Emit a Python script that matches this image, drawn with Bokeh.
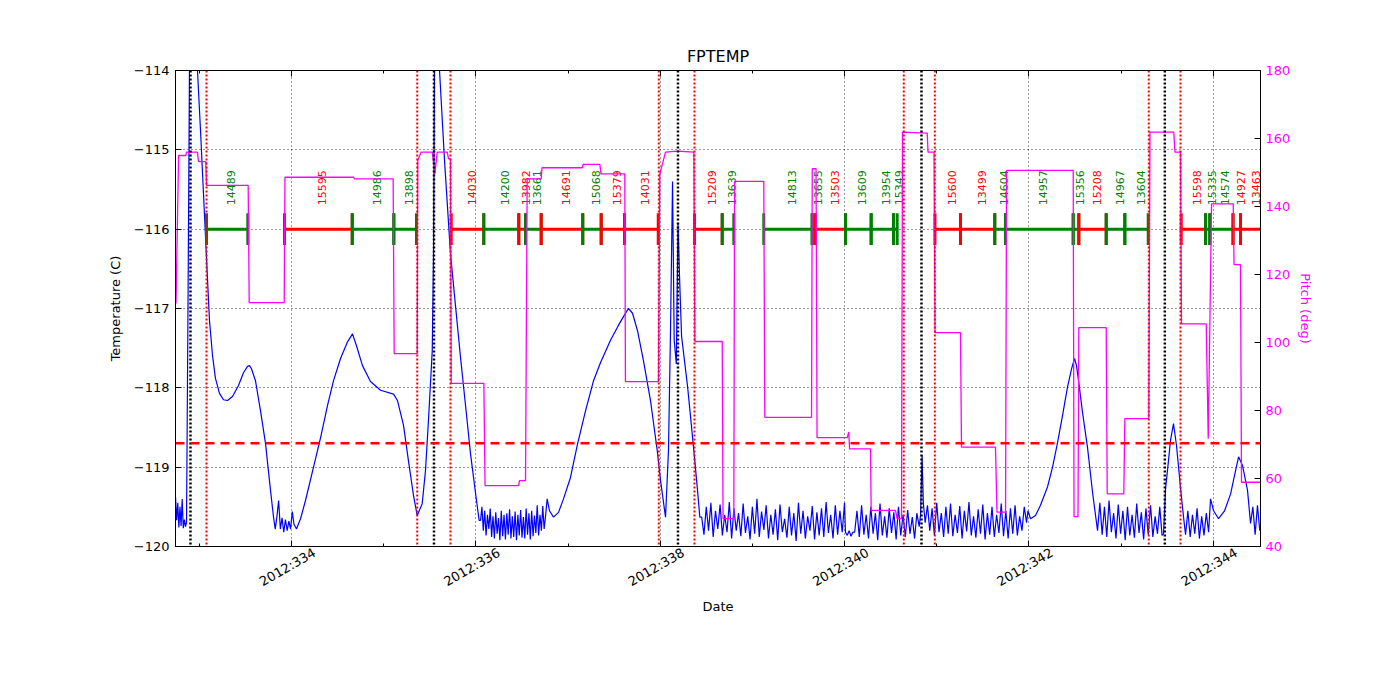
import math
from bokeh.plotting import figure
from bokeh.models import (Range1d, LinearAxis, FixedTicker, Span,
                          ColumnDataSource, CustomJSTickFormatter)
from bokeh.core.properties import value
from bokeh.embed import file_html
from bokeh.resources import INLINE

FONT = "DejaVu Sans"

# ---------------- data ----------------
x_major_days = [334, 336, 338, 340, 342, 344]
x_minor_days = [333, 335, 337, 339, 341, 343]
x_tick_labels = ["2012:334", "2012:336", "2012:338", "2012:340", "2012:342", "2012:344"]

temp_ticks = [-120, -119, -118, -117, -116, -115, -114]
temp_tick_labels = ["\u2212120", "\u2212119", "\u2212118", "\u2212117", "\u2212116", "\u2212115", "\u2212114"]

pitch_ticks = [40, 60, 80, 100, 120, 140, 160, 180]
pitch_tick_labels = ["40", "60", "80", "100", "120", "140", "160", "180"]

x_start_day, x_end_day = 332.7415, 344.513
temp_min, temp_max = -120.0, -114.0
pitch_min, pitch_max = 40.0, 180.0

temp_limit = -118.7

perigee_days = [332.904, 335.546, 338.193, 340.835, 343.475]
rad_zone_days = [333.078, 335.364, 335.725, 337.985, 338.372, 340.643, 340.980, 343.301, 343.645]

obs_ids = ["14489", "15595", "14986", "13898", "14030", "14200", "13982", "13661",
           "14691", "15068", "15379", "14031", "15209", "13639", "14813", "13655",
           "13503", "13609", "13954", "15349", "15600", "13499", "14604", "14957",
           "15356", "15208", "14967", "13604", "15598", "15335", "14574", "14927", "13463"]
obs_start = [333.078, 333.924, 334.659, 335.110, 335.733, 336.086, 336.466, 336.539,
             336.709, 337.160, 337.360, 337.613, 338.372, 338.673, 339.124, 339.649,
             339.685, 340.011, 340.289, 340.531, 340.981, 341.258, 341.630, 341.747,
             342.481, 342.542, 342.839, 343.041, 343.653, 343.917, 343.963, 344.215, 344.296]
obs_stop = [333.526, 334.659, 335.110, 335.356, 336.086, 336.466, 336.539, 336.709,
            337.160, 337.360, 337.613, 337.979, 338.673, 338.799, 339.649, 339.685,
            340.011, 340.289, 340.531, 340.571, 341.258, 341.630, 341.747, 342.481,
            342.542, 342.839, 343.041, 343.295, 343.917, 343.963, 344.215, 344.296, 344.550]
obs_group = ["A", "B", "A", "A", "B", "A", "B", "A",
             "B", "A", "B", "B", "B", "A", "A", "A",
             "B", "A", "A", "A", "B", "B", "A", "A",
             "A", "B", "A", "A", "B", "A", "A", "B", "B"]
obs_level = -116.0
obs_label_level = -115.70

pitch_days = [332.747, 332.775, 332.854, 332.861, 332.980, 332.991, 333.070, 333.078,
              333.530, 333.541, 333.921, 333.929, 334.673, 334.684, 335.103, 335.114,
              335.364, 335.370, 335.407, 335.527, 335.555, 335.581, 335.690, 335.704,
              335.725, 335.733, 336.087, 336.100, 336.463, 336.474, 336.539, 336.557,
              336.709, 336.718, 337.154, 337.165, 337.345, 337.358, 337.616, 337.623,
              337.981, 337.996, 338.058, 338.185, 338.365, 338.376, 338.673, 338.682,
              338.799, 338.807, 339.124, 339.135, 339.642, 339.650, 339.691, 339.702,
              340.029, 340.046, 340.055, 340.282, 340.289, 340.553, 340.571, 340.618,
              340.629, 340.897, 340.906, 340.971, 340.982, 341.258, 341.269, 341.638,
              341.654, 341.747, 341.758, 342.481, 342.490, 342.533, 342.542, 342.839,
              342.850, 343.030, 343.041, 343.301, 343.314, 343.572, 343.585, 343.645,
              343.656, 343.924, 343.946, 343.982, 344.217, 344.226, 344.296, 344.307, 344.513]
pitch_deg = [111.5, 155.0, 155.0, 156.0, 156.0, 153.2, 153.2, 146.2,
             146.2, 111.7, 111.7, 148.6, 148.6, 148.1, 148.1, 96.7,
             96.7, 153.5, 156.0, 156.0, 149.6, 156.0, 156.0, 154.0,
             154.0, 88.0, 88.0, 57.9, 57.9, 59.4, 59.4, 148.1,
             148.1, 151.4, 151.4, 152.4, 152.4, 149.6, 149.6, 88.5,
             88.5, 149.6, 156.0, 156.3, 156.0, 100.3, 100.3, 48.2,
             48.2, 147.4, 147.4, 78.0, 78.0, 151.1, 151.1, 72.0,
             72.0, 73.7, 68.7, 68.7, 50.6, 50.6, 48.2, 48.2,
             161.9, 161.6, 156.0, 156.0, 102.9, 102.9, 69.2, 69.2,
             50.1, 50.1, 150.6, 150.6, 48.8, 48.8, 104.4, 104.4,
             55.5, 55.5, 77.6, 77.6, 161.9, 161.9, 156.0, 156.0,
             105.5, 105.5, 71.7, 140.8, 140.8, 122.9, 122.9, 58.9, 58.9]

# temperature trace: noisy stretches sampled at a fixed telemetry interval
# (start day, sample interval, values) and smooth stretches as (day, value)
temp_noise_1 = (332.742, 0.012, [-119.38, -119.67, -119.45, -119.76, -119.50, -119.74,
                                 -119.40, -119.77, -119.66, -119.75])
temp_curve_1 = [(332.861, -119.70), (332.877, -117.0), (332.893, -114.0), (332.937, -113.3),
                (332.980, -114.0), (333.013, -114.76), (333.110, -117.15), (333.143, -117.59),
                (333.175, -117.88), (333.219, -118.07), (333.262, -118.15), (333.306, -118.16),
                (333.360, -118.11), (333.425, -117.97), (333.479, -117.81), (333.523, -117.73),
                (333.544, -117.72), (333.566, -117.76), (333.609, -117.91), (333.664, -118.29),
                (333.718, -118.70), (333.772, -119.29), (333.805, -119.63)]
temp_noise_2 = (333.8235, 0.0185, [-119.78, -119.62, -119.42, -119.78, -119.64, -119.82,
                                   -119.66, -119.80, -119.68, -119.78, -119.56, -119.72])
temp_curve_2 = [(334.054, -119.78), (334.098, -119.65), (334.152, -119.42), (334.239, -119.00),
                (334.315, -118.63), (334.391, -118.22), (334.456, -117.91), (334.532, -117.63),
                (334.608, -117.42), (334.662, -117.32), (334.705, -117.47), (334.770, -117.72),
                (334.857, -117.92), (334.966, -118.03), (335.107, -118.08), (335.150, -118.16),
                (335.215, -118.47), (335.269, -118.92), (335.324, -119.36), (335.364, -119.61),
                (335.418, -119.46), (335.454, -119.04), (335.486, -118.41), (335.527, -117.53),
                (335.541, -116.27), (335.551, -114.0), (335.573, -113.5), (335.606, -114.0),
                (335.660, -115.13), (335.725, -116.31), (335.779, -116.96), (335.834, -117.62),
                (335.888, -118.22), (335.942, -118.83), (336.007, -119.42), (336.036, -119.67)]
temp_noise_3 = (336.051, 0.015, [-119.67, -119.50, -119.80, -119.55, -119.86, -119.60, -119.78,
                                 -119.52, -119.88, -119.62, -119.90, -119.57, -119.84, -119.64,
                                 -119.92, -119.55, -119.87, -119.60, -119.91, -119.58, -119.85,
                                 -119.53, -119.90, -119.62, -119.88, -119.56, -119.92, -119.60,
                                 -119.86, -119.54, -119.89, -119.63, -119.90, -119.52, -119.85,
                                 -119.58, -119.91, -119.55, -119.87, -119.61, -119.83, -119.48,
                                 -119.86, -119.60, -119.80, -119.49, -119.78, -119.62])
temp_curve_3 = [(336.774, -119.40), (336.799, -119.55), (336.843, -119.63), (336.897, -119.57),
                (336.951, -119.40), (337.027, -119.13), (337.103, -118.71), (337.190, -118.29),
                (337.277, -117.91), (337.353, -117.68), (337.461, -117.40), (337.548, -117.21),
                (337.613, -117.08), (337.656, -117.00), (337.700, -117.06), (337.754, -117.28),
                (337.819, -117.66), (337.895, -118.16), (337.968, -118.79), (338.004, -119.17),
                (338.058, -119.63), (338.090, -118.79), (338.112, -117.28), (338.134, -115.40),
                (338.152, -117.40), (338.175, -117.70), (338.193, -115.92), (338.210, -116.60),
                (338.232, -117.35), (338.264, -117.66), (338.296, -117.97), (338.362, -118.75),
                (338.405, -119.29), (338.430, -119.63)]
temp_noise_4 = (338.450, 0.025, [-119.63, -119.85, -119.50, -119.80, -119.45, -119.88, -119.55,
                                 -119.78, -119.47, -119.86, -119.60, -119.82, -119.44, -119.90,
                                 -119.52, -119.80, -119.58, -119.87, -119.46, -119.83, -119.62,
                                 -119.91, -119.50, -119.84, -119.40, -119.88, -119.56, -119.79,
                                 -119.48, -119.90, -119.60, -119.85, -119.53, -119.92, -119.47,
                                 -119.82, -119.65, -119.89, -119.50, -119.86, -119.58, -119.93,
                                 -119.45, -119.84, -119.55, -119.90, -119.62, -119.80, -119.49,
                                 -119.91, -119.57, -119.86, -119.52, -119.88, -119.44, -119.83,
                                 -119.60, -119.90, -119.48, -119.85, -119.55, -119.82, -119.45])
temp_curve_4 = [(340.010, -119.82), (340.030, -119.86), (340.050, -119.80), (340.070, -119.87),
                (340.090, -119.82)]
temp_noise_5 = (340.110, 0.025, [-119.82, -119.55, -119.88, -119.48, -119.85, -119.60, -119.90,
                                 -119.50, -119.84, -119.58, -119.92, -119.46, -119.86, -119.62,
                                 -119.89, -119.52, -119.83, -119.57, -119.91, -119.50, -119.86,
                                 -119.60, -119.88, -119.54, -119.84, -119.63, -119.90, -119.58,
                                 -119.75])
temp_curve_5 = [(340.825, -119.60), (340.841, -118.85), (340.855, -119.45), (340.875, -119.70)]
temp_noise_6 = (340.900, 0.025, [-119.48, -119.80, -119.52, -119.86, -119.45, -119.82, -119.58,
                                 -119.88, -119.50, -119.84, -119.46, -119.87, -119.60, -119.83,
                                 -119.49, -119.90, -119.55, -119.81, -119.44, -119.86, -119.62,
                                 -119.89, -119.53, -119.84, -119.47, -119.91, -119.58, -119.85,
                                 -119.50, -119.88, -119.60, -119.83, -119.46, -119.87, -119.55,
                                 -119.90, -119.52, -119.84, -119.48, -119.86, -119.62, -119.80,
                                 -119.50, -119.70])
temp_curve_6 = [(341.990, -119.55), (342.018, -119.65), (342.072, -119.61), (342.126, -119.48),
                (342.202, -119.25), (342.257, -119.00), (342.311, -118.69), (342.365, -118.35),
                (342.419, -117.99), (342.463, -117.76), (342.495, -117.63), (342.517, -117.72),
                (342.539, -117.91), (342.582, -118.31), (342.636, -118.75), (342.691, -119.32),
                (342.745, -119.80)]
temp_noise_7 = (342.770, 0.025, [-119.45, -119.85, -119.50, -119.88, -119.42, -119.82, -119.58,
                                 -119.90, -119.47, -119.84, -119.55, -119.92, -119.50, -119.86,
                                 -119.60, -119.89, -119.46, -119.83, -119.57, -119.91, -119.52,
                                 -119.85, -119.48, -119.88, -119.62, -119.84, -119.50, -119.86])
temp_curve_7 = [(343.461, -119.84), (343.483, -119.27), (343.504, -119.04), (343.537, -118.66),
                (343.569, -118.45), (343.602, -118.73), (343.645, -119.26), (343.678, -119.63)]
temp_noise_8 = (343.700, 0.025, [-119.85, -119.55, -119.88, -119.60, -119.84, -119.52, -119.90,
                                 -119.62, -119.86, -119.58, -119.82])
temp_curve_8 = [(343.971, -119.40), (344.004, -119.55), (344.058, -119.65), (344.123, -119.55),
                (344.188, -119.34), (344.243, -119.04), (344.275, -118.87), (344.318, -118.98),
                (344.372, -119.29), (344.405, -119.71)]
temp_noise_9 = (344.430, 0.025, [-119.50, -119.85, -119.48, -119.80])

temp_pieces = [temp_noise_1, temp_curve_1, temp_noise_2, temp_curve_2, temp_noise_3,
               temp_curve_3, temp_noise_4, temp_curve_4, temp_noise_5, temp_curve_5,
               temp_noise_6, temp_curve_6, temp_noise_7, temp_curve_7, temp_noise_8,
               temp_curve_8, temp_noise_9]

temp_days, temp_vals = [], []
for piece in temp_pieces:
    if isinstance(piece, tuple):
        start, dt, vals = piece
        temp_days += [start + i * dt for i in range(len(vals))]
        temp_vals += list(vals)
    else:
        temp_days += [d for d, _ in piece]
        temp_vals += [v for _, v in piece]

# ---------------- styles ----------------
BLUE = "#0000ff"
MAGENTA = "#ff00ff"
GREEN = "#008000"
RED = "#ff0000"
group_color = {"A": GREEN, "B": RED}

# ---------------- figure ----------------
p = figure(width=1384, height=684,
           x_range=Range1d(x_start_day, x_end_day), y_range=Range1d(temp_min, temp_max),
           output_backend="svg", toolbar_location=None, title="FPTEMP",
           min_border_left=175, min_border_right=124, min_border_top=70, min_border_bottom=138,
           background_fill_color="white", border_fill_color="white")
p.extra_y_ranges = {"pitch": Range1d(pitch_min, pitch_max)}
# label axis: same scale, shifted so the rotated (right-anchored) labels end up centred on ticks
label_shift_days = 0.25
p.extra_x_ranges = {"xlab": Range1d(x_start_day - label_shift_days, x_end_day - label_shift_days)}
p.outline_line_color = "black"
p.outline_line_width = 1
p.title.align = "center"
p.title.text_font = FONT
p.title.text_font_size = "16px"
p.title.text_font_style = "normal"
p.title.text_color = "black"

xt = FixedTicker(ticks=x_major_days, minor_ticks=x_minor_days)
yt = FixedTicker(ticks=temp_ticks)


def style_axis(ax, label_color="black"):
    ax.major_tick_in = 6
    ax.major_tick_out = 0
    ax.minor_tick_in = 3
    ax.minor_tick_out = 0
    ax.major_tick_line_color = "black"
    ax.minor_tick_line_color = "black"
    ax.axis_line_color = "black"
    ax.major_label_text_font = FONT
    ax.major_label_text_font_size = "13px"
    ax.major_label_text_color = label_color
    ax.axis_label_text_font = FONT
    ax.axis_label_text_font_size = "13px"
    ax.axis_label_text_font_style = "normal"
    ax.axis_label_text_color = label_color


xax = p.xaxis[0]
xax.ticker = xt
xax.formatter = CustomJSTickFormatter(code="return ''")
style_axis(xax)
xax.major_label_standoff = 0

lab_ax = LinearAxis(x_range_name="xlab", ticker=FixedTicker(ticks=x_major_days),
                    axis_label="Date")
lab_ax.major_label_overrides = dict(zip(x_major_days, x_tick_labels))
style_axis(lab_ax)
lab_ax.axis_line_color = None
lab_ax.major_tick_line_color = None
lab_ax.minor_tick_line_color = None
lab_ax.major_label_orientation = math.pi / 6
lab_ax.major_label_standoff = 5
lab_ax.axis_label_standoff = 0
p.add_layout(lab_ax, "below")

yax = p.yaxis[0]
yax.ticker = yt
yax.major_label_overrides = dict(zip(temp_ticks, temp_tick_labels))
yax.axis_label = "Temperature (C)"
style_axis(yax)
yax.major_label_standoff = 6
yax.axis_label_standoff = 8

rax = LinearAxis(y_range_name="pitch", ticker=FixedTicker(ticks=pitch_ticks),
                 axis_label="Pitch (deg)")
rax.major_label_overrides = dict(zip(pitch_ticks, pitch_tick_labels))
style_axis(rax, MAGENTA)
rax.major_label_standoff = 5
rax.axis_label_standoff = 5
p.add_layout(rax, "right")

tax = LinearAxis(ticker=xt, formatter=CustomJSTickFormatter(code="return ''"))
style_axis(tax)
tax.major_label_standoff = 0
p.add_layout(tax, "above")

for g in p.xgrid:
    g.ticker = xt
for g in p.ygrid:
    g.ticker = yt
p.grid.grid_line_color = "black"
p.grid.grid_line_dash = "1 3"
p.grid.grid_line_width = 0.8

# temperature
p.line(temp_days, temp_vals, line_color=BLUE, line_width=1.2)

# radiation zone / perigee markers and limit line
for d in rad_zone_days:
    p.add_layout(Span(location=d, dimension="height", line_color=RED,
                      line_dash="2 2", line_width=2, level="glyph"))
for d in perigee_days:
    p.add_layout(Span(location=d, dimension="height", line_color="black",
                      line_dash="2 2", line_width=2.5, level="glyph"))
p.add_layout(Span(location=temp_limit, dimension="width", line_color=RED,
                  line_dash="9 6", line_width=2.5, level="glyph"))

# observations
sx0, sy0, sx1, sy1, scol = [], [], [], [], []
half = 0.2
for s, e, g in zip(obs_start, obs_stop, obs_group):
    c = group_color[g]
    sx0 += [s, s, e]
    sx1 += [e, s, e]
    sy0 += [obs_level, obs_level - half, obs_level - half]
    sy1 += [obs_level, obs_level + half, obs_level + half]
    scol += [c, c, c]
seg_src = ColumnDataSource(dict(x0=sx0, y0=sy0, x1=sx1, y1=sy1, c=scol))
p.segment("x0", "y0", "x1", "y1", source=seg_src, line_color="c", line_width=3)

lab_src = ColumnDataSource(dict(
    x=[(s + e) / 2 for s, e in zip(obs_start, obs_stop)],
    y=[obs_label_level] * len(obs_ids),
    t=obs_ids,
    c=[group_color[g] for g in obs_group]))
p.text("x", "y", text="t", source=lab_src, angle=math.pi / 2, text_align="left",
       text_baseline="middle", x_offset=4, text_color="c",
       text_font=value(FONT), text_font_size="11px")

# pitch
p.line(pitch_days, pitch_deg, y_range_name="pitch", line_color=MAGENTA, line_width=1.3)

open("out.html", "w").write(file_html(p, INLINE))
